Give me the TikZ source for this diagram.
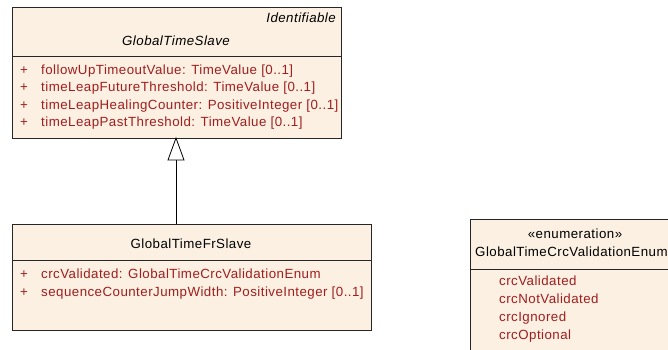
\documentclass[tikz,border=0pt]{standalone}
\usepackage{fontspec}
\setmainfont{Liberation Sans}[LetterSpace=3.5]
\definecolor{boxfill}{RGB}{251,240,226}
\definecolor{attr}{RGB}{160,30,30}
\begin{document}
\begin{tikzpicture}[x=1pt,y=-1pt,
  umlbox/.style={draw=black!85,line width=1pt,fill=boxfill},
  divider/.style={draw=black!85,line width=0.8pt},
  txt/.style={inner sep=0pt,font=\fontsize{13.3}{15}\selectfont,anchor=base west},
  atxt/.style={txt,text=attr},
  gen/.style={draw=black,line width=0.8pt}]
\useasboundingbox (0,0) rectangle (668,349);
\clip (0,0) rectangle (668,349);
% GlobalTimeSlave
\draw[umlbox] (12,7) rectangle (341,138);
\draw[divider] (12,56) -- (341,56);
\node[txt,anchor=base east,font=\itshape\fontsize{13.3}{15}\selectfont] (ident) at (336,22) {Identifiable};
\node[txt,anchor=base,font=\itshape\fontsize{13.3}{15}\selectfont] (gts) at (176,45) {GlobalTimeSlave};
\node[atxt] (p1) at (20,74) {+};
\node[atxt] (a1) at (41,74) {followUpTimeoutValue: TimeValue [0..1]};
\node[atxt] (p2) at (20,91.5) {+};
\node[atxt] (a2) at (41,91.5) {timeLeapFutureThreshold: TimeValue [0..1]};
\node[atxt] (p3) at (20,109) {+};
\node[atxt] (a3) at (41,109) {timeLeapHealingCounter: PositiveInteger [0..1]};
\node[atxt] (p4) at (20,126.5) {+};
\node[atxt] (a4) at (41,126.5) {timeLeapPastThreshold: TimeValue [0..1]};
\coordinate (top) at (176,138);
% GlobalTimeFrSlave
\draw[umlbox] (12,224) rectangle (371,330);
\draw[divider] (12,260) -- (371,260);
\coordinate (bot) at (176,224);
\node[txt,anchor=base] (gtfs) at (191,248) {GlobalTimeFrSlave};
\node[atxt] (q1) at (20,278) {+};
\node[atxt] (b1) at (41,278) {crcValidated: GlobalTimeCrcValidationEnum};
\node[atxt] (q2) at (20,296) {+};
\node[atxt] (b2) at (41,296) {sequenceCounterJumpWidth: PositiveInteger [0..1]};
% generalization
\coordinate (tb) at (176,160);
\draw[gen] (bot) -- (tb);
\draw[gen,fill=white,line join=miter] (top) -- (184,160) -- (168,160) -- cycle;
% Enum
\draw[umlbox] (470,219) rectangle (680,360);
\draw[divider] (470,269) -- (680,269);
\node[txt,anchor=base] (st) at (575,238) {«enumeration»};
\node[txt,anchor=base west] (en) at (475,256) {GlobalTimeCrcValidationEnum};
\node[atxt] (l1) at (499,285) {crcValidated};
\node[atxt] (l2) at (499,303) {crcNotValidated};
\node[atxt] (l3) at (499,321) {crcIgnored};
\node[atxt] (l4) at (499,339) {crcOptional};
\end{tikzpicture}
\end{document}
